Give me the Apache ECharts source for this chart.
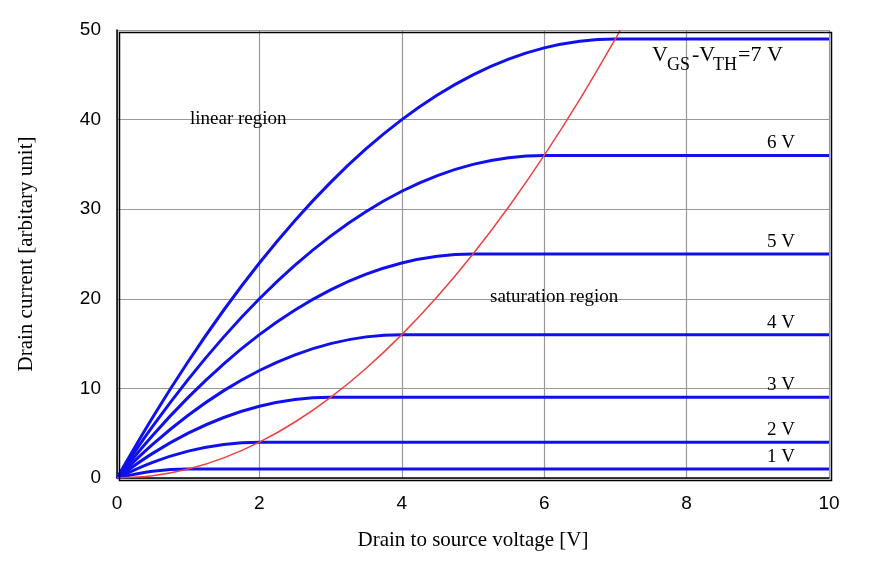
<!DOCTYPE html>
<html><head><meta charset="utf-8">
<script src="https://cdn.jsdelivr.net/npm/echarts@6/dist/echarts.min.js"></script>
<style>html,body{margin:0;background:#fff}#c{width:876px;height:584px}</style>
</head><body><div id="c"></div>
<script>
const xTicks=[0,2,4,6,8,10];
const curveLabels=['1 V','2 V','3 V','4 V','5 V','6 V',''];
const curve1=[[0,0],[0.5,0.75],[1,1],[10,1]];
const curve2=[[0,0],[0.5,1.75],[1,3],[1.5,3.75],[2,4],[10,4]];
const curve3=[[0,0],[0.5,2.75],[1,5],[1.5,6.75],[2,8],[2.5,8.75],[3,9],[10,9]];
const curve4=[[0,0],[0.5,3.75],[1,7],[1.5,9.75],[2,12],[2.5,13.75],[3,15],[3.5,15.75],[4,16],[10,16]];
const curve5=[[0,0],[0.5,4.75],[1,9],[1.5,12.75],[2,16],[2.5,18.75],[3,21],[3.5,22.75],[4,24],[4.5,24.75],[5,25],[10,25]];
const curve6=[[0,0],[0.5,5.75],[1,11],[1.5,15.75],[2,20],[2.5,23.75],[3,27],[3.5,29.75],[4,32],[4.5,33.75],[5,35],[5.5,35.75],[6,36],[10,36]];
const curve7=[[0,0],[0.5,6.75],[1,13],[1.5,18.75],[2,24],[2.5,28.75],[3,33],[3.5,36.75],[4,40],[4.5,42.75],[5,45],[5.5,46.75],[6,48],[6.5,48.75],[7,49],[10,49]];
const boundary=[[0,0],[0.5,0.25],[1,1],[1.5,2.25],[2,4],[2.5,6.25],[3,9],[3.5,12.25],[4,16],[4.5,20.25],[5,25],[5.5,30.25],[6,36],[6.5,42.25],[7,49],[7.07,50]];
const curves=[curve1,curve2,curve3,curve4,curve5,curve6,curve7];
const serif='"Liberation Serif","DejaVu Serif",serif';
const series=curves.map((c,i)=>({type:'line',data:c,smooth:0.35,showSymbol:false,symbol:'none',
 lineStyle:{color:'#1010ee',width:3},z:3,silent:true,
 endLabel:{show:!!curveLabels[i],formatter:curveLabels[i],offset:[-70,-12],fontFamily:serif,fontSize:19,color:'#000'}}));
series.push({type:'line',data:boundary,smooth:0.35,symbol:'none',lineStyle:{color:'#f04040',width:1.5},z:4,silent:true});
const ch=echarts.init(document.getElementById('c'));
ch.setOption({animation:false,
grid:{left:117,right:47,top:30,bottom:106},
xAxis:{type:'value',min:0,max:10,interval:2,name:'Drain to source voltage [V]',nameLocation:'middle',nameGap:52,
 nameTextStyle:{fontFamily:serif,fontSize:21,color:'#000'},
 axisLine:{lineStyle:{color:'#000',width:1.5}},axisTick:{show:false},
 axisLabel:{fontFamily:'"Liberation Sans",sans-serif',fontSize:19,color:'#000',margin:16},
 splitLine:{lineStyle:{color:'#999',width:1.2}}},
yAxis:{type:'value',min:0,max:50,interval:10,name:'Drain current [arbitary unit]',nameLocation:'middle',nameGap:80,
 nameTextStyle:{fontFamily:serif,fontSize:21,color:'#000'},
 axisLine:{lineStyle:{color:'#000',width:1.5}},axisTick:{show:false},
 axisLabel:{fontFamily:'"Liberation Sans",sans-serif',fontSize:19,color:'#000',margin:16},
 splitLine:{lineStyle:{color:'#999',width:1.2}}},
series:series,
graphic:[
 {type:'rect',left:117,top:30,shape:{width:712,height:448},style:{fill:'none',stroke:'#000',lineWidth:1.5},z:10},
 {type:'text',left:190,top:110,style:{text:'linear region',font:'19px '+serif,fill:'#000'},z:10},
 {type:'text',left:490,top:288,style:{text:'saturation region',font:'19px '+serif,fill:'#000'},z:10},
 {type:'text',left:652,top:44,style:{text:'V',font:'22px '+serif,fill:'#000'},z:10},
 {type:'text',left:667,top:56,style:{text:'GS',font:'18px '+serif,fill:'#000'},z:10},
 {type:'text',left:692,top:44,style:{text:'-V',font:'22px '+serif,fill:'#000'},z:10},
 {type:'text',left:713,top:56,style:{text:'TH',font:'18px '+serif,fill:'#000'},z:10},
 {type:'text',left:738,top:44,style:{text:'=7 V',font:'22px '+serif,fill:'#000'},z:10}
]});
</script></body></html>
